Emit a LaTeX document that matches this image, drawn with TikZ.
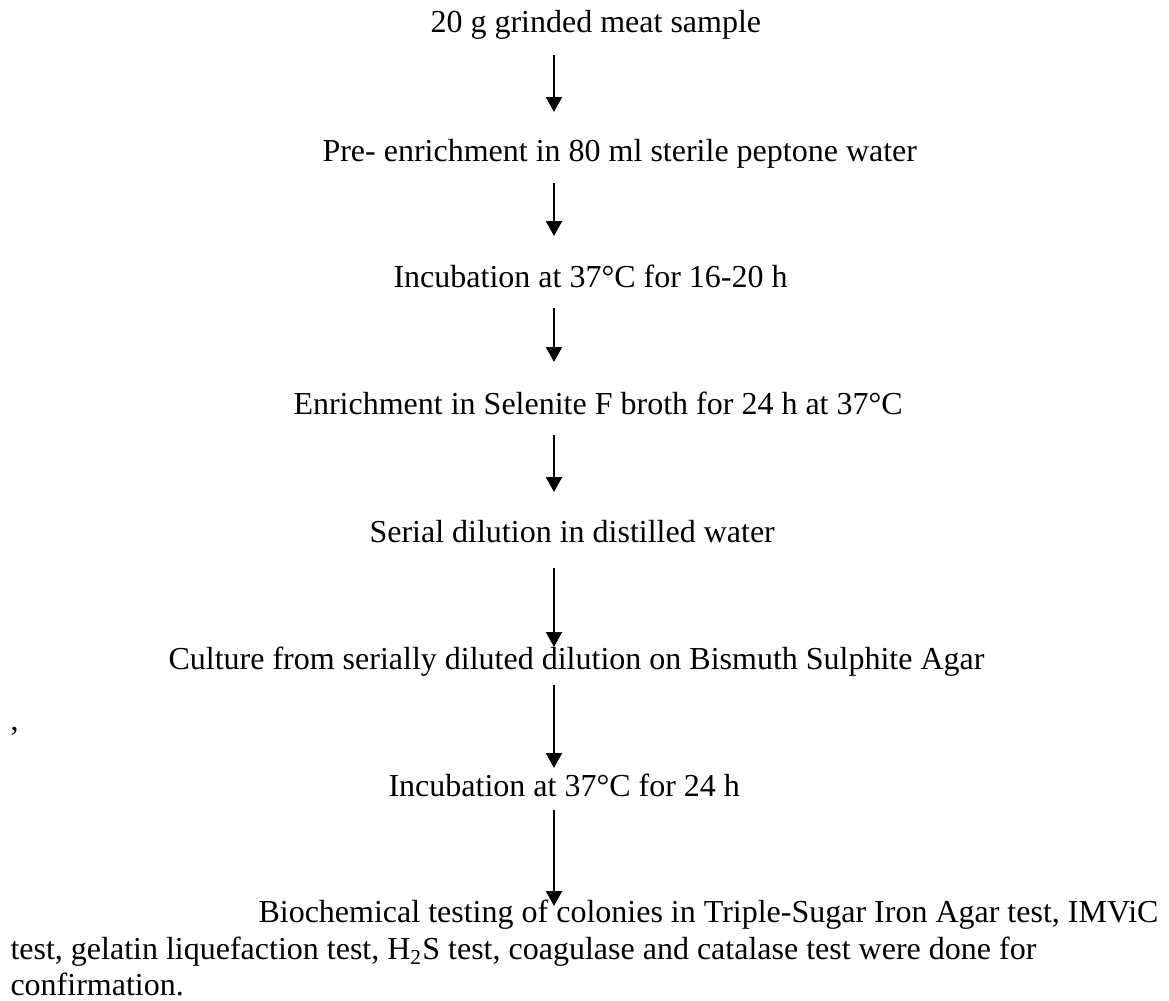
\documentclass[tikz,border=0pt]{standalone}
\usepackage{fontspec}
\setmainfont{Liberation Serif}
\usetikzlibrary{arrows.meta,calc}

\tikzset{
  stage/.style={anchor=base west, inner sep=0pt, font=\fontsize{12pt}{13.8pt}\selectfont},
  flow/.style={-{Triangle[length=5.6pt,width=6pt]}, line width=0.75pt},
}

\begin{document}
\begin{tikzpicture}[x=0.375pt,y=-0.375pt]
\useasboundingbox (0,0) rectangle (1169,1001);
\coordinate (axis) at (554,0);

\node (meat) at (430,33) [stage] {20 g grinded meat sample};
\node (preenrich) at (322,162) [stage] {Pre- enrichment in 80 ml sterile peptone water};
\node (incub1) at (393,288) [stage] {Incubation at 37°C for 16-20 h};
\node (selenite) at (293,415) [stage] {Enrichment in Selenite F broth for 24 h at 37°C};
\node (serial) at (369,543) [stage] {Serial dilution in distilled water};
\node (culture) at (168,670) [stage] {Culture from serially diluted dilution on Bismuth Sulphite Agar};
\node (comma) at (10,731) [stage] {,};
\node (incub2) at (388,797) [stage] {Incubation at 37°C for 24 h};
\node (biochem) at (258,923) [stage] {Biochemical testing of colonies in Triple-Sugar Iron Agar test, IMViC};
\node (biochem2) at (10,960) [stage] {test, gelatin liquefaction test, H\textsubscript{2}S test, coagulase and catalase test were done for};
\node (biochem3) at (10,996) [stage] {confirmation.};

\foreach \a/\b/\s/\t in {meat/preenrich/22/50, preenrich/incub1/21/52,
    incub1/selenite/20/53, selenite/serial/20/51, serial/culture/25/23,
    culture/incub2/15/29, incub2/biochem/13/17} {%
    \draw[flow] ($(\a.base -| axis)+(0,\s)$) -- ($(\b.base -| axis)+(0,-\t)$);
}
\end{tikzpicture}
\end{document}
